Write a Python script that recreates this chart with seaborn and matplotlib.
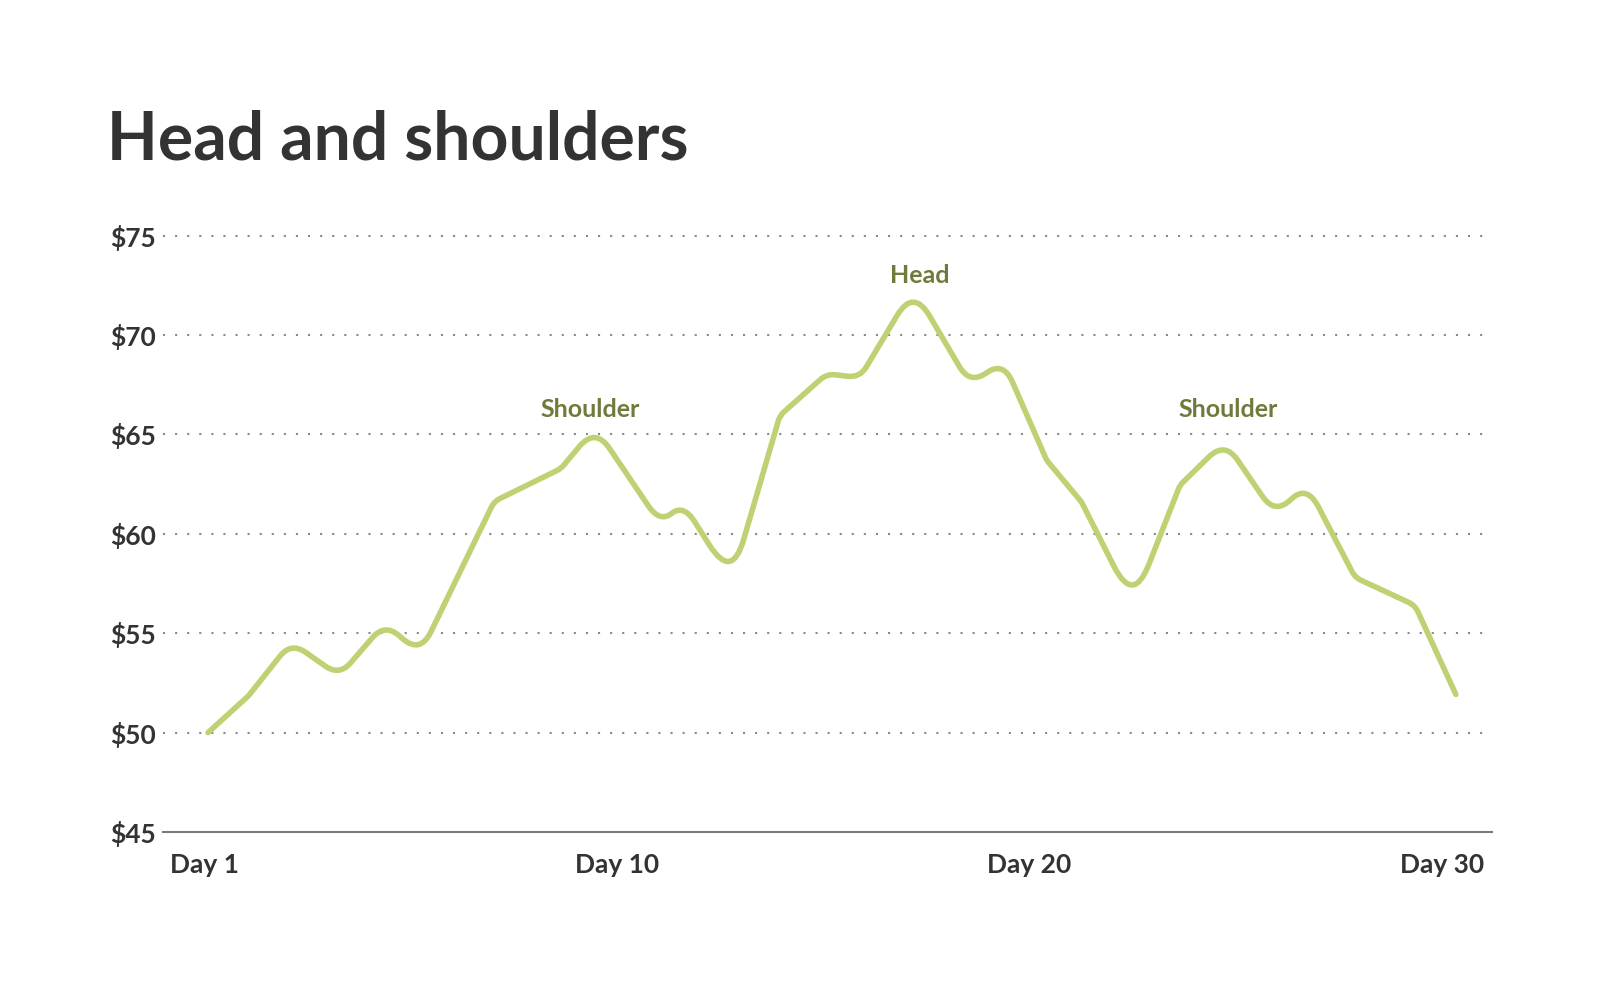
import numpy as np
import pandas as pd
import matplotlib
matplotlib.use("Agg")
import matplotlib.pyplot as plt
import seaborn as sns
from matplotlib.path import Path
from matplotlib.patches import PathPatch

# ---------------- data ----------------
title = "Head and shoulders"
days = [1.00, 1.94, 2.93, 4.05, 5.11, 5.93, 7.65, 9.20, 10.00, 11.50, 12.05, 13.17,
        14.29, 15.38, 16.15, 17.39, 18.71, 19.48, 20.49, 21.30, 22.50, 23.59,
        24.63, 25.80, 26.53, 27.66, 29.05, 30.00]
prices = [50.0, 51.85, 54.55, 52.85, 55.5, 53.95, 61.63, 63.28, 65.35, 60.55, 61.5, 57.65,
          65.95, 68.05, 67.85, 72.35, 67.5, 68.7, 63.7, 61.6, 56.45, 62.45,
          64.65, 60.95, 62.5, 57.8, 56.4, 51.92]
y_ticks = [45, 50, 55, 60, 65, 70, 75]
y_tick_labels = ["$45", "$50", "$55", "$60", "$65", "$70", "$75"]
x_tick_labels = ["Day 1", "Day 10", "Day 20", "Day 30"]
ann_text = ["Shoulder", "Head", "Shoulder"]
ann_x = [9.89, 17.55, 24.72]
ann_y = [65.9, 72.64, 65.89]

# ---------------- style ----------------
LINE_C = "#BFD273"
ANN_C = "#6E7B3C"
TEXT_C = "#333333"
GRID_C = "#8a8a8a"

sns.set_theme(style="white")
plt.rcParams["font.family"] = ["Lato", "DejaVu Sans"]

fig = plt.figure(figsize=(16, 10.02), dpi=100)
ax = fig.add_axes([0.1019, 0.1697, 0.8306, 0.6150])
ax.set_xlim(-0.046, 30.84)
ax.set_ylim(45, 76)

df = pd.DataFrame({"day": days, "price": prices})
sns.lineplot(data=df, x="day", y="price", ax=ax, color=LINE_C, lw=4.0,
             sort=False, estimator=None)

# render the same vertices as a polyline with rounded corners (fixed corner radius)
ln = ax.lines[-1]
xy = ln.get_xydata()
ln.remove()
P = ax.transData.transform(xy)
RADIUS = 19.0
verts = [P[0]]
codes = [Path.MOVETO]
for i in range(1, len(P) - 1):
    a_vec = P[i - 1] - P[i]
    b_vec = P[i + 1] - P[i]
    la = np.hypot(*a_vec)
    lb = np.hypot(*b_vec)
    ua, ub = a_vec / la, b_vec / lb
    cosang = np.clip(np.dot(-ua, ub), -1, 1)
    theta = np.arccos(cosang)          # turning angle
    t = RADIUS * np.tan(theta / 2)
    ta = min(t, 0.5 * la)
    tb = min(t, 0.5 * lb)
    verts += [P[i] + ua * ta, P[i], P[i] + ub * tb]
    codes += [Path.LINETO, Path.CURVE3, Path.CURVE3]
verts.append(P[-1])
codes.append(Path.LINETO)
verts_data = ax.transData.inverted().transform(np.array(verts))
patch = PathPatch(Path(verts_data, codes), facecolor="none", edgecolor=LINE_C,
                  lw=4.0, capstyle="round", joinstyle="round", clip_on=False, zorder=3)
ax.add_patch(patch)

# grid & axes
for v in y_ticks[1:]:
    ax.axhline(v, color=GRID_C, lw=1.5, ls=(0, (1, 4.8)), zorder=1)
for s in ["top", "right", "left"]:
    ax.spines[s].set_visible(False)
ax.spines["bottom"].set_color("#7a7a7a")
ax.spines["bottom"].set_linewidth(1.5)
ax.spines["bottom"].set_position(("data", 45))

ax.set_yticks(y_ticks)
ax.set_yticklabels(y_tick_labels)
ax.set_xticks(np.linspace(0.91, 29.68, len(x_tick_labels)))
ax.set_xticklabels(x_tick_labels)
ax.tick_params(axis="y", length=0, pad=5.0, labelsize=19, labelcolor=TEXT_C)
ax.tick_params(axis="x", length=0, pad=15, labelsize=19, labelcolor=TEXT_C)
for lab in ax.get_xticklabels() + ax.get_yticklabels():
    lab.set_fontweight("bold")
ax.set_xlabel("")
ax.set_ylabel("")
ax.grid(False)

for t, x, y in zip(ann_text, ann_x, ann_y):
    ax.text(x, y, t, ha="center", va="baseline", color=ANN_C, fontsize=18,
            fontweight="bold")

fig.text(0.067, (1002 - 160) / 1002, title, ha="left", va="baseline",
         fontsize=47.5, fontweight="bold", color=TEXT_C)

fig.savefig("out.png", dpi=100, facecolor="white")
